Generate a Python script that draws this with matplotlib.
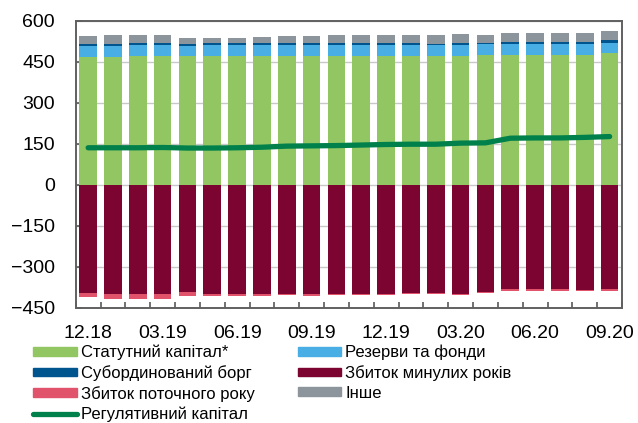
import numpy as np
import matplotlib
matplotlib.use("Agg")
import matplotlib.pyplot as plt
from matplotlib.lines import Line2D
from matplotlib.patches import Patch

plt.rcParams['font.family'] = ['Liberation Sans', 'DejaVu Sans']

# monthly data, 12.18 .. 09.20, UAH bn
months = ['12.18', '01.19', '02.19', '03.19', '04.19', '05.19', '06.19', '07.19',
          '08.19', '09.19', '10.19', '11.19', '12.19', '01.20', '02.20', '03.20',
          '04.20', '05.20', '06.20', '07.20', '08.20', '09.20']
statutory = [467, 467, 470, 470, 471, 471, 471, 471, 472, 471, 471,
             470, 471, 471, 471, 472, 476, 476, 476, 476, 476, 483]
reserves = [42, 42, 41, 41, 37, 40, 40, 40, 41, 40, 40,
            41, 40, 40, 40, 40, 39, 40, 40, 40, 40, 38]
subdebt = [8, 8, 8, 8, 8, 8, 8, 8, 8, 8, 8,
           8, 8, 8, 5, 8, 5, 6, 6, 6, 6, 9]
other = [27, 30, 30, 31, 21, 18, 19, 22, 23, 26, 28,
         28, 31, 29, 31, 33, 27, 35, 35, 35, 35, 33]
loss_prev = [-396, -398, -398, -398, -393, -399, -399, -399, -399, -400, -399,
             -398, -398, -396, -396, -398, -391, -382, -382, -382, -383, -382]
loss_curr = [-14, -18, -18, -18, -14, -7, -7, -7, -4, -5, -4,
             -6, -5, -4, -4, -5, -4, -6, -6, -5, -4, -5]
reg_capital = [136, 136, 136, 137, 135, 135, 136, 138, 142, 143, 144,
               146, 148, 149, 149, 153, 154, 171, 172, 172, 174, 177]

c_stat = '#92C663'
c_res = '#48AEE4'
c_sub = '#00558E'
c_prev = '#7B0431'
c_curr = '#E0536B'
c_other = '#8C959C'
c_reg = '#00804A'

x = np.arange(len(months))
w = 0.71

fig = plt.figure(figsize=(6.38, 4.23), dpi=100)
ax = fig.add_axes([0.1187, 0.272, 0.8563, 0.6785])

stat = np.array(statutory)
res = np.array(reserves)
sub = np.array(subdebt)
oth = np.array(other)
prev = np.array(loss_prev)
curr = np.array(loss_curr)

ax.bar(x, stat, w, color=c_stat, zorder=2)
ax.bar(x, res, w, bottom=stat, color=c_res, zorder=2)
ax.bar(x, sub, w, bottom=stat + res, color=c_sub, zorder=2)
ax.bar(x, oth, w, bottom=stat + res + sub, color=c_other, zorder=2)
ax.bar(x, prev, w, color=c_prev, zorder=2)
ax.bar(x, curr, w, bottom=prev, color=c_curr, zorder=2)
ax.plot(x, reg_capital, color=c_reg, lw=3.8, solid_capstyle='round', zorder=4)

ax.set_ylim(-450, 600)
ax.set_yticks(np.arange(-450, 601, 150))
ax.set_xlim(-0.5, len(months) - 0.5)
ax.set_xticks(x[::3])
ax.set_xticklabels(months[::3])
ax.set_xticks(np.arange(-0.5, len(months), 1), minor=True)
ax.grid(axis='y', color='#C8C8C8', lw=1.0, zorder=3)

ax.tick_params(axis='y', direction='in', length=4.5, width=1.2, color='#595959',
               labelsize=14, pad=15)
ax.tick_params(axis='x', which='major', length=0, labelsize=14, pad=12)
ax.tick_params(axis='x', which='minor', direction='in', length=4, width=1.2,
               color='#595959')
for s in ax.spines.values():
    s.set_color('#606060')
    s.set_linewidth(1.4)

handles = [
    Patch(color=c_stat), Patch(color=c_sub), Patch(color=c_curr),
    Line2D([], [], color=c_reg, lw=3.8, solid_capstyle='round'),
    Patch(color=c_res), Patch(color=c_prev), Patch(color=c_other),
]
labels = ['Статутний капітал*', 'Субординований борг', 'Збиток поточного року',
          'Регулятивний капітал', 'Резерви та фонди', 'Збиток минулих років', 'Інше']
fig.legend(handles, labels, ncol=2, loc='upper left', bbox_to_anchor=(0.052, 0.185),
           frameon=False, fontsize=12, handlelength=2.6, handleheight=0.45,
           handletextpad=0.24, labelspacing=0.29, columnspacing=2.62,
           borderpad=0, borderaxespad=0)

fig.savefig('out.png', dpi=100)
